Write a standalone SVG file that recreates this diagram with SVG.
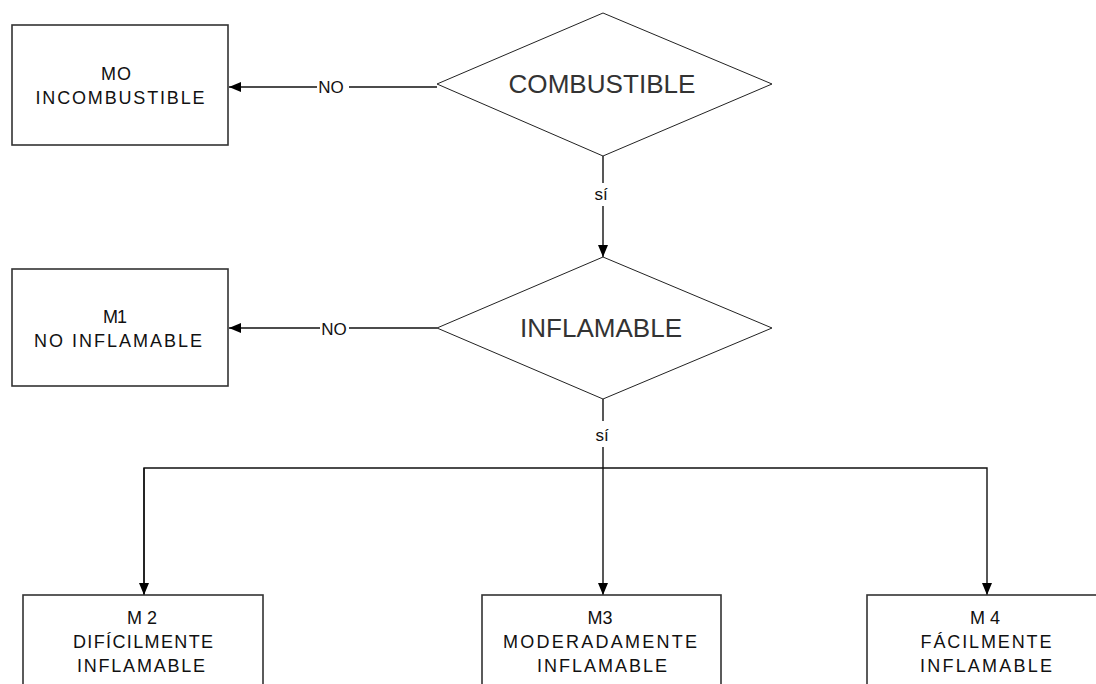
<svg xmlns="http://www.w3.org/2000/svg" width="1096" height="684" viewBox="0 0 1096 684">
<defs>
<style>
.box{fill:#fff;stroke:#333;stroke-width:1.6}
.dia{fill:#fff;stroke:#222;stroke-width:1}
.line{fill:none;stroke:#111;stroke-width:1.4}
.t{font-family:"Liberation Sans",Arial,sans-serif;font-size:18px;fill:#111;text-anchor:middle}
.big{font-family:"Liberation Sans",Arial,sans-serif;font-size:26px;fill:#333;text-anchor:middle}
.lbl{font-family:"Liberation Sans",Arial,sans-serif;font-size:17px;fill:#111;text-anchor:middle}
</style>
<marker id="ah" viewBox="0 0 12 10" refX="12" refY="5" markerWidth="12" markerHeight="10" markerUnits="userSpaceOnUse" orient="auto">
<path d="M0,0 L12,5 L0,10 Z" fill="#000"/>
</marker>
</defs>
<rect width="1096" height="684" fill="#fff"/>
<g id="connectors">
<path class="line" d="M437,87 L349,87"/>
<path class="line" d="M317,87 L229,87" marker-end="url(#ah)"/>
<text class="lbl" x="331" y="93">NO</text>
<path class="line" d="M437,328 L349,328"/>
<path class="line" d="M320,328 L229,328" marker-end="url(#ah)"/>
<text class="lbl" x="334" y="335">NO</text>
<path class="line" d="M603,156 L603,183"/>
<path class="line" d="M603,206 L603,257" marker-end="url(#ah)"/>
<text class="lbl" x="601" y="200">sí</text>
<path class="line" d="M603,399 L603,421"/>
<path class="line" d="M603,447 L603,595" marker-end="url(#ah)"/>
<text class="lbl" x="602" y="441">sí</text>
<path class="line" d="M144,595 L144,468 L987,468 L987,595" marker-end="url(#ah)"/>
<path class="line" d="M144,468 L144,595" marker-end="url(#ah)"/>
</g>
<g id="m0">
<rect class="box" x="12" y="25" width="216" height="120"/>
<text class="t" x="116" y="80" textLength="30" lengthAdjust="spacing">MO</text>
<text class="t" x="120" y="104" textLength="169" lengthAdjust="spacing">INCOMBUSTIBLE</text>
</g>
<g id="combustible">
<polygon class="dia" points="603,13 772,84 603,156 437,84"/>
<text class="big" x="602" y="93" textLength="187" lengthAdjust="spacingAndGlyphs">COMBUSTIBLE</text>
</g>
<g id="m1">
<rect class="box" x="12" y="269" width="216" height="117"/>
<text class="t" x="115" y="323" textLength="24" lengthAdjust="spacing">M1</text>
<text class="t" x="118" y="347" textLength="168" lengthAdjust="spacing">NO INFLAMABLE</text>
</g>
<g id="inflamable">
<polygon class="dia" points="603,257 772,328 603,399 437,328"/>
<text class="big" x="601" y="337" textLength="162" lengthAdjust="spacingAndGlyphs">INFLAMABLE</text>
</g>
<g id="m2">
<rect class="box" x="23" y="595" width="240" height="110"/>
<text class="t" x="142" y="624" textLength="30" lengthAdjust="spacing">M2</text>
<text class="t" x="143" y="648" textLength="140" lengthAdjust="spacing">DIFÍCILMENTE</text>
<text class="t" x="141" y="672" textLength="128" lengthAdjust="spacing">INFLAMABLE</text>
</g>
<g id="m3">
<rect class="box" x="482" y="595" width="239" height="110"/>
<text class="t" x="600" y="624" textLength="25" lengthAdjust="spacing">M3</text>
<text class="t" x="600" y="648" textLength="194" lengthAdjust="spacing">MODERADAMENTE</text>
<text class="t" x="602" y="672" textLength="130" lengthAdjust="spacing">INFLAMABLE</text>
</g>
<g id="m4">
<rect class="box" x="867" y="595" width="250" height="110"/>
<text class="t" x="985" y="624" textLength="30" lengthAdjust="spacing">M4</text>
<text class="t" x="986" y="648" textLength="131" lengthAdjust="spacing">FÁCILMENTE</text>
<text class="t" x="986" y="672" textLength="132" lengthAdjust="spacing">INFLAMABLE</text>
</g>
</svg>
